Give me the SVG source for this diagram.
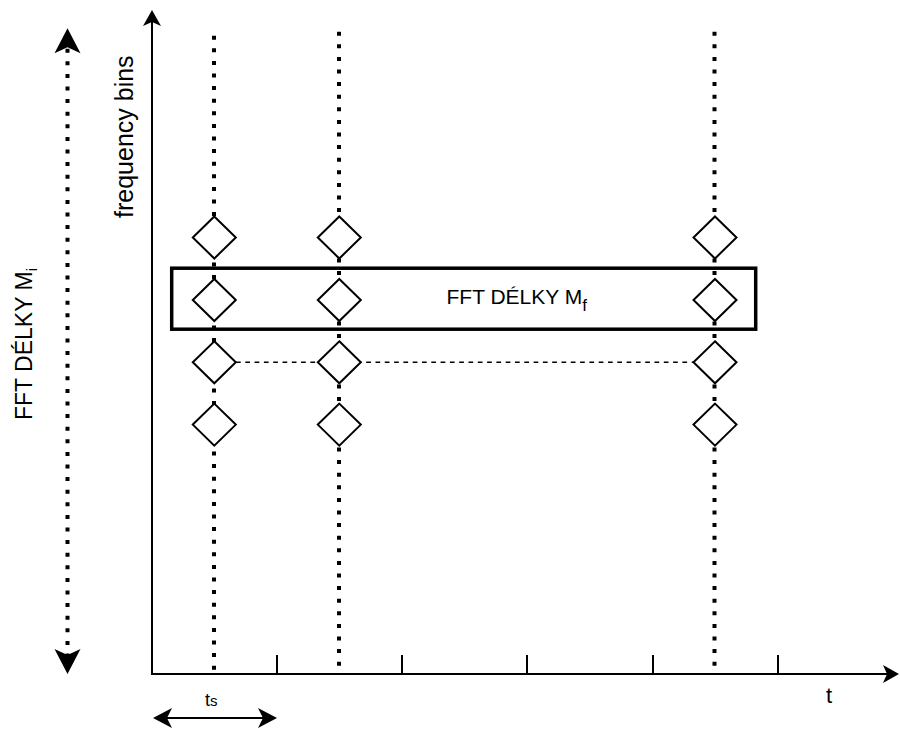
<svg xmlns="http://www.w3.org/2000/svg" xmlns:xlink="http://www.w3.org/1999/xlink" width="900" height="729" viewBox="0 0 900 729">
  <style>
    text { font-family: "Liberation Sans", Arial, sans-serif; fill: #000; }
    .axis { stroke: #000; stroke-width: 2; fill: none; }
    .tick { stroke: #000; stroke-width: 2; }
    .dots { stroke: #000; stroke-width: 4; stroke-dasharray: 4 8.6; fill: none; }
    .dash { stroke: #000; stroke-width: 1.6; stroke-dasharray: 4.7 4.6; fill: none; }
    .bin { fill: #fff; stroke: #000; stroke-width: 2; }
    .frame { fill: none; stroke: #000; stroke-width: 3.5; }
    .head { fill: #000; stroke: none; }
  </style>
  <defs>
    <!-- arrowheads, tip at origin, pointing up -->
    <path id="headBig" class="head" d="M0,0 L13,25 L0,19 L-13,25 Z"/>
    <path id="headAxis" class="head" d="M0,0 L9,16 L0,12 L-9,16 Z"/>
    <path id="headSmall" class="head" d="M0,0 L10,19 L0,14 L-10,19 Z"/>
    <!-- one frequency bin -->
    <path id="binShape" class="bin" d="M0,-21 L21.5,0 L0,21 L-21.5,0 Z"/>
  </defs>

  <!-- connectors: axes, guides, arrows -->
  <g id="connectors">
    <!-- time columns -->
    <line class="dots" x1="214" y1="35.7" x2="214" y2="674"/>
    <line class="dots" x1="339" y1="31.7" x2="339" y2="674"/>
    <line class="dots" x1="714.5" y1="31.7" x2="714.5" y2="674"/>

    <!-- axes -->
    <line class="axis" x1="152" y1="14" x2="152" y2="675"/>
    <line class="axis" x1="151" y1="674" x2="896" y2="674"/>
    <use xlink:href="#headAxis" transform="translate(152,10)"/>
    <use xlink:href="#headAxis" transform="translate(899,674) rotate(90)"/>

    <!-- ticks -->
    <line class="tick" x1="277" y1="655" x2="277" y2="674"/>
    <line class="tick" x1="402" y1="655" x2="402" y2="674"/>
    <line class="tick" x1="527" y1="655" x2="527" y2="674"/>
    <line class="tick" x1="653" y1="655" x2="653" y2="674"/>
    <line class="tick" x1="778" y1="655" x2="778" y2="674"/>

    <!-- FFT length along frequency -->
    <line class="dots" x1="67.5" y1="48.7" x2="67.5" y2="660"/>
    <use xlink:href="#headBig" transform="translate(67.5,28.3)"/>
    <use xlink:href="#headBig" transform="translate(67.5,674) rotate(180)"/>

    <!-- hop size -->
    <line class="axis" x1="158" y1="718" x2="272" y2="718"/>
    <use xlink:href="#headSmall" transform="translate(153,718) rotate(-90)"/>
    <use xlink:href="#headSmall" transform="translate(277,718) rotate(90)"/>

    <!-- one frequency bin over time -->
    <line class="dash" x1="236" y1="362.3" x2="693" y2="362.3"/>
  </g>

  <!-- bins, column t1 -->
  <g id="col1">
    <use xlink:href="#binShape" x="214.3" y="237.5"/>
    <use xlink:href="#binShape" x="214.3" y="300"/>
    <use xlink:href="#binShape" x="214.3" y="362.3"/>
    <use xlink:href="#binShape" x="214.3" y="424.6"/>
  </g>
  <!-- bins, column t2 -->
  <g id="col2">
    <use xlink:href="#binShape" x="339.3" y="237.5"/>
    <use xlink:href="#binShape" x="339.3" y="300"/>
    <use xlink:href="#binShape" x="339.3" y="362.3"/>
    <use xlink:href="#binShape" x="339.3" y="424.6"/>
  </g>
  <!-- bins, column tn -->
  <g id="colN">
    <use xlink:href="#binShape" x="715" y="237.5"/>
    <use xlink:href="#binShape" x="715" y="300"/>
    <use xlink:href="#binShape" x="715" y="362.3"/>
    <use xlink:href="#binShape" x="715" y="424.6"/>
  </g>

  <!-- FFT frame over time -->
  <g id="fftFrame">
    <rect class="frame" x="171.7" y="268.2" width="584" height="61"/>
    <text x="446.5" y="304" font-size="21">FFT DÉLKY M<tspan font-size="17" dy="7">f</tspan></text>
  </g>

  <!-- labels -->
  <g id="labels">
    <text transform="translate(133,218) rotate(-90)" font-size="25">frequency bins</text>
    <text transform="translate(32,420) rotate(-90)" font-size="23">FFT DÉLKY M<tspan font-size="15" dy="5">i</tspan></text>
    <text x="826" y="703" font-size="22">t</text>
    <text x="205" y="706" font-size="18">t<tspan font-size="15">s</tspan></text>
  </g>
</svg>
